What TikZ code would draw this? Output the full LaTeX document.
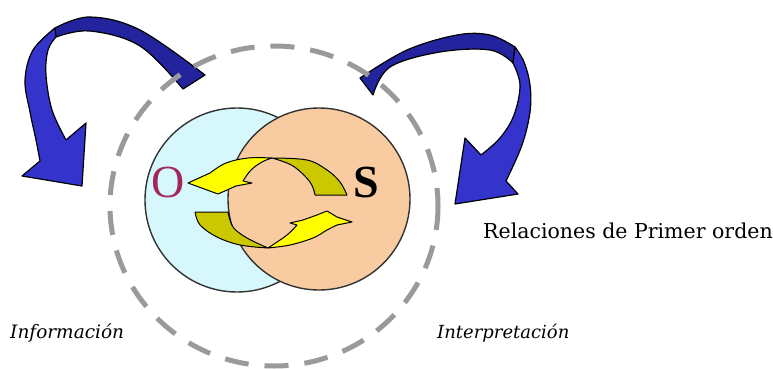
\documentclass[tikz,border=0pt]{standalone}
\usepackage{fontspec}
\setmainfont{Liberation Serif}
\newfontfamily\dvs{DejaVu Serif}
\definecolor{blueA}{HTML}{3434CC}
\definecolor{blueB}{HTML}{23239E}
\definecolor{cyanL}{HTML}{D6F8FC}
\definecolor{peach}{HTML}{F8CCA0}
\definecolor{yelF}{HTML}{FFFF00}
\definecolor{yelB}{HTML}{CCC800}
\definecolor{maroonO}{HTML}{A0285A}
\definecolor{dashgray}{HTML}{9A9A9A}
\tikzset{
  bluepart/.style={draw=black, line width=1.2pt, line join=round},
  yelpart/.style={draw=black, line width=1pt, line join=round},
  disc/.style={draw=black!80, line width=1.4pt},
  caption/.style={inner sep=0pt, anchor=west},
}
\begin{document}
\begin{tikzpicture}[x=1pt,y=-1pt]
\useasboundingbox (0,0) rectangle (773,369);
% left blue arrow
\path[bluepart, fill=blueB]
  plot[smooth, tension=0.6] coordinates {(205,75) (140,30) (90,17) (55,28)}
  -- (56,37)
  -- plot[smooth, tension=0.6] coordinates {(56,37) (90,31) (140,46) (183,89)}
  -- cycle;
\path[bluepart, fill=blueA]
  plot[smooth, tension=0.6] coordinates {(55,28) (33,50) (25,80) (30,112) (36,140) (40,161)}
  -- (22,176) -- (82,186) -- (86,123) -- (66,140)
  -- plot[smooth, tension=0.6] coordinates {(66,140) (52,110) (46,75) (48,50) (56,37)}
  -- cycle;
% right blue arrow
\path[bluepart, fill=blueB]
  plot[smooth, tension=0.6] coordinates {(360,78) (407,50) (457,35) (490,35) (515,47)}
  -- (513,63)
  -- plot[smooth, tension=0.6] coordinates {(513,63) (490,50) (440,52) (390,67) (373,95)}
  -- cycle;
\path[bluepart, fill=blueA]
  plot[smooth, tension=0.6] coordinates {(515,47) (524,62) (530,85) (530,112) (522,145) (506,181)}
  -- (518,194) -- (455,204) -- (465,138) -- (481,155)
  -- plot[smooth, tension=0.6] coordinates {(481,155) (500,138) (514,115) (520,85) (513,63)}
  -- cycle;
% dashed circle
\draw[dashgray, line width=5pt, dash pattern=on 24pt off 16pt] (274,206) ellipse [x radius=164, y radius=160];
% discs
\draw[disc, fill=cyanL] (237,200) circle [radius=92];
\draw[disc, fill=peach] (319,199) circle [radius=91];
% upper yellow arrow
\path[yelpart, fill=yelB]
  plot[smooth, tension=0.6] coordinates {(272,158) (307,160) (327,170) (340,182) (347,195)}
  -- (315,195)
  -- plot[smooth, tension=0.6] coordinates {(315,195) (310,182) (293,166) (272,158)}
  -- cycle;
\path[yelpart, fill=yelF]
  (188,183) -- (210,173)
  -- plot[smooth, tension=0.6] coordinates {(210,173) (226,163) (248,158) (272,158)}
  -- plot[smooth, tension=0.6] coordinates {(272,158) (262,162) (251,170) (243,181)}
  -- (252,183) -- (236,186) -- (218,194) -- cycle;
% lower yellow arrow
\path[yelpart, fill=yelB]
  (195,212) -- (228,212)
  -- plot[smooth, tension=0.6] coordinates {(228,212) (233,227) (247,238) (268,248)}
  -- plot[smooth, tension=0.6] coordinates {(268,248) (240,245) (217,237) (200,225) (195,212)}
  -- cycle;
\path[yelpart, fill=yelF]
  plot[smooth, tension=0.6] coordinates {(268,248) (290,245) (313,238) (327,230) (337,225)}
  -- (352,222) -- (337,217) -- (327,211) -- (317,215) -- (303,220) -- (290,223) -- (297,225)
  -- plot[smooth, tension=0.6] coordinates {(297,225) (287,235) (268,248)}
  -- cycle;
% letters
\node[inner sep=0pt, text=maroonO, font=\fontsize{46}{46}\selectfont] (o) at (168,182) {O};
\node[inner sep=0pt, font=\fontsize{46}{46}\selectfont\bfseries] (s) at (366,182) {S};
% captions
\node[caption, font=\dvs\fontsize{20.5}{20.5}\selectfont] (rel) at (483,231) {Relaciones de Primer orden};
\node[caption, font=\dvs\itshape\fontsize{18.5}{18.5}\selectfont] (inf) at (10,333) {Información};
\node[caption, font=\dvs\itshape\fontsize{18}{18}\selectfont] (int) at (437,333) {Interpretación};
\end{tikzpicture}
\end{document}
